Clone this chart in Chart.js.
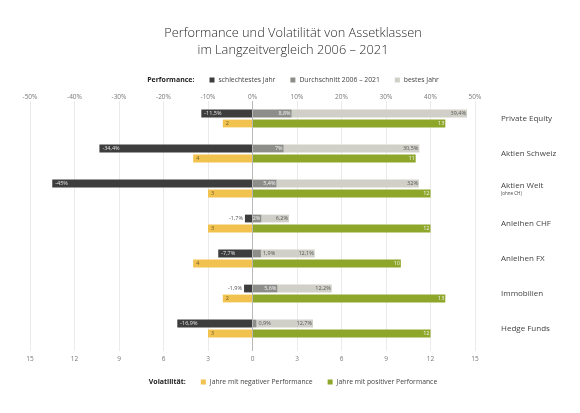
<!DOCTYPE html>
<html>
<head>
<meta charset="utf-8">
<script src="https://cdn.jsdelivr.net/npm/chart.js@4.4.1/dist/chart.umd.min.js"></script>
<style>
  html, body { margin: 0; padding: 0; background: #fff; }
  #wrap { width: 580px; height: 413px; }
</style>
</head>
<body>
<div id="wrap"><canvas id="chart"></canvas></div>
<script>
const categories = ["Private Equity", "Aktien Schweiz", "Aktien Welt", "Anleihen CHF", "Anleihen FX", "Immobilien", "Hedge Funds"]
const subLabels = ["", "", "(ohne CH)", "", "", "", ""]

// performance in %
const worstYear = [-11.5, -34.4, -45, -1.7, -7.7, -1.9, -16.9]
const averageYear = [8.8, 7, 5.4, 2, 1.9, 5.6, 0.9]
const bestYear = [39.4, 30.5, 32, 6.2, 12.1, 12.2, 12.7]

// volatility: number of years
const negativeYears = [2, 4, 3, 3, 4, 2, 3]
const positiveYears = [13, 11, 12, 12, 10, 13, 12]

const FONT = "'Open Sans', 'Noto Sans', sans-serif"

function fmt(v, pct) {
  return String(v).replace(".", ",") + (pct ? "%" : "")
}

// value labels on the bars
const barLabels = {
  id: "barLabels",
  afterDatasetsDraw(chart) {
    const ctx = chart.ctx
    ctx.save()
    ctx.font = "5.5px " + FONT
    ctx.textBaseline = "middle"
    chart.data.datasets.forEach((ds, di) => {
      const meta = chart.getDatasetMeta(di)
      meta.data.forEach((bar, i) => {
        const {x, y, base} = bar.getProps(["x", "y", "base"], true)
        const text = fmt(ds.labelValues[i], ds.pct)
        const w = ctx.measureText(text).width
        const len = Math.abs(x - base)
        if (ds.labelAt == "start") {
          if (w + 5 > len) {
            ctx.fillStyle = "#555"
            ctx.textAlign = "right"
            ctx.fillText(text, x - 2, y)
          } else {
            ctx.fillStyle = ds.labelColor
            ctx.textAlign = "left"
            ctx.fillText(text, x + 3, y)
          }
        } else {
          if (w > len) {
            ctx.fillStyle = "#555"
            ctx.textAlign = "left"
            ctx.fillText(text, x + 2, y)
          } else {
            ctx.fillStyle = ds.labelColor
            ctx.textAlign = "right"
            ctx.fillText(text, x - 1, y)
          }
        }
      })
    })
    ctx.restore()
  }
}

// title, the two legends and the category names
const decorations = {
  id: "decorations",
  afterDraw(chart) {
    const ctx = chart.ctx
    const cx = chart.width / 2 + 3
    ctx.save()

    ctx.fillStyle = "#2a2a2a"
    ctx.textAlign = "center"
    ctx.textBaseline = "middle"
    ctx.font = "300 12.8px " + FONT
    ctx.fillText("Performance und Volatilität von Assetklassen", cx, 33)
    ctx.fillText("im Langzeitvergleich 2006 – 2021", cx, 50)

    const drawLegend = (head, items, yPos) => {
      ctx.textAlign = "left"
      ctx.font = "bold 7px " + FONT
      const headW = ctx.measureText(head).width
      ctx.font = "6.8px " + FONT
      let total = headW
      items.forEach(it => { total += 15 + 5 + 4 + ctx.measureText(it.text).width })
      let xPos = cx - total / 2
      ctx.font = "bold 7px " + FONT
      ctx.fillStyle = "#222"
      ctx.fillText(head, xPos, yPos)
      xPos += headW
      ctx.font = "6.8px " + FONT
      items.forEach(it => {
        xPos += 15
        ctx.fillStyle = it.color
        ctx.fillRect(xPos, yPos - 2.5, 5, 5)
        xPos += 9
        ctx.fillStyle = "#444"
        ctx.fillText(it.text, xPos, yPos)
        xPos += ctx.measureText(it.text).width
      })
    }
    const ds = chart.data.datasets
    drawLegend("Performance:", ds.filter(d => d.stack == "perf").map(d => ({text: d.label, color: d.backgroundColor})), 80)
    drawLegend("Volatilität:", ds.filter(d => d.stack == "vol").map(d => ({text: d.label, color: d.backgroundColor})), 382)

    const yScale = chart.scales.y
    const left = chart.chartArea.right + 26
    ctx.textAlign = "left"
    categories.forEach((name, i) => {
      const yPix = yScale.getPixelForValue(i)
      ctx.fillStyle = "#444"
      ctx.font = "8px " + FONT
      if (subLabels[i]) {
        ctx.fillText(name, left, yPix - 3)
        ctx.font = "4.5px " + FONT
        ctx.fillText(subLabels[i], left, yPix + 5)
      } else {
        ctx.fillText(name, left, yPix)
      }
    })
    ctx.restore()
  }
}

const gridColor = c => c.tick && c.tick.value === 0 ? "#b8b8b8" : "#ebebeb"

const config = {
  type: "bar",
  data: {
    labels: categories,
    datasets: [
      { label: "schlechtestes Jahr", data: worstYear, labelValues: worstYear, pct: true,
        stack: "perf", xAxisID: "x", backgroundColor: "#3d3d3d", labelColor: "#e6e6e6", labelAt: "start" },
      { label: "Durchschnitt 2006 – 2021", data: averageYear, labelValues: averageYear, pct: true,
        stack: "perf", xAxisID: "x", backgroundColor: "#8d8d89", labelColor: "#f2f2f2", labelAt: "end" },
      { label: "bestes Jahr", data: bestYear, labelValues: bestYear, pct: true,
        stack: "perf", xAxisID: "x", backgroundColor: "#d1d0c8", labelColor: "#555", labelAt: "end" },
      { label: "Jahre mit negativer Performance", data: negativeYears.map(v => -v), labelValues: negativeYears, pct: false,
        stack: "vol", xAxisID: "x2", backgroundColor: "#f1c24e", labelColor: "#6b5a2a", labelAt: "start" },
      { label: "Jahre mit positiver Performance", data: positiveYears, labelValues: positiveYears, pct: false,
        stack: "vol", xAxisID: "x2", backgroundColor: "#8ea72a", labelColor: "#f4f4f4", labelAt: "end" },
    ]
  },
  options: {
    indexAxis: "y",
    responsive: true,
    maintainAspectRatio: false,
    animation: false,
    categoryPercentage: 0.57,
    barPercentage: 0.78,
    layout: { padding: { left: 30, right: 105, top: 89, bottom: 47 } },
    scales: {
      x: {
        position: "top",
        min: -50, max: 50,
        stacked: true,
        ticks: { stepSize: 10, padding: 0, color: "#777", font: { family: FONT, size: 6.5 },
          callback: v => v + "%" },
        grid: { color: gridColor, drawTicks: false },
        border: { display: false },
        afterFit(scale) { scale.height = 12 }
      },
      x2: {
        position: "bottom",
        min: -15, max: 15,
        stacked: true,
        ticks: { stepSize: 3, padding: 4, color: "#777", font: { family: FONT, size: 6.5 },
          callback: v => Math.abs(v) },
        grid: { color: gridColor, drawOnChartArea: false, drawTicks: true, tickLength: 5 },
        border: { display: false },
        afterFit(scale) { scale.height = 20 }
      },
      y: { display: false }
    },
    plugins: {
      legend: { display: false },
      tooltip: { enabled: false }
    }
  },
  plugins: [barLabels, decorations]
}

new Chart(document.getElementById("chart"), config)
</script>
</body>
</html>
